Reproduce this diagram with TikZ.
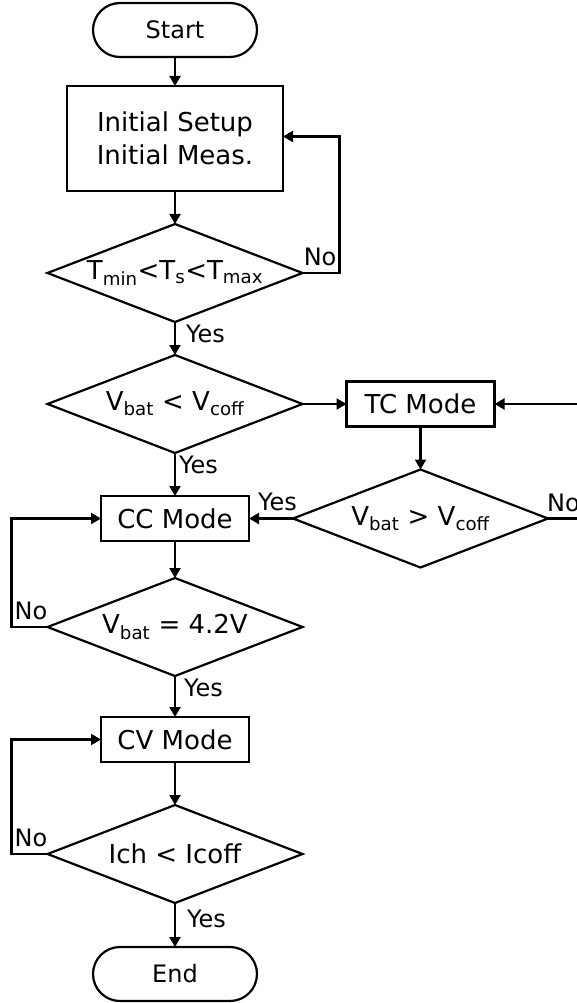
\documentclass[tikz,border=0pt]{standalone}
\usepackage{fontspec}
\setmainfont{DejaVu Sans}
\usetikzlibrary{shapes.geometric, arrows.meta, positioning}

\tikzset{
  terminal/.style={draw, line width=2.2pt, rectangle, rounded corners=27pt,
    minimum width=164pt, minimum height=54pt, outer sep=0pt,
    font=\fontsize{24}{28}\selectfont},
  process/.style={draw, line width=2.2pt, rectangle, inner sep=0pt, outer sep=0pt,
    minimum width=148pt, minimum height=45pt, align=center,
    font=\fontsize{26}{33}\selectfont},
  decision/.style={draw, line width=2.2pt, diamond, shape aspect=2.6,
    inner sep=0pt, outer sep=0pt, minimum width=255pt, minimum height=98pt,
    font=\fontsize{26}{30}\selectfont},
  flow/.style={line width=2.2pt, -{Triangle[length=10pt, width=11pt]}},
  lbl/.style={font=\fontsize{24}{28}\selectfont, inner sep=2pt},
  yes/.style={lbl, pos=0, anchor=north west},
  no/.style={lbl, anchor=south west, yshift=4pt}
}

\begin{document}
\begin{tikzpicture}[x=1pt, y=1pt]
  \useasboundingbox (0,0) rectangle (577,-1003);
  \clip (0,0) rectangle (577,-1003);

  % Define nodes
  \node[terminal] (start) at (175,-30) {Start};
  \node[process, minimum width=216pt, minimum height=105pt, below=29pt of start] (init)
    {Initial Setup\\Initial Meas.};
  \node[decision, below=33pt of init] (tcheck)
    {T\textsubscript{min}<T\textsubscript{s}<T\textsubscript{max}};
  \node[decision, below=33pt of tcheck] (vcheck)
    {V\textsubscript{bat} < V\textsubscript{coff}};
  \node[process, right=44pt of vcheck] (tc) {TC Mode};
  \node[decision, below=43pt of tc] (vtc)
    {V\textsubscript{bat} > V\textsubscript{coff}};
  \node[process, line width=1.2pt, below=43pt of vcheck] (cc) {CC Mode};
  \node[decision, below=37pt of cc] (vfull) {V\textsubscript{bat} = 4.2V};
  \node[process, below=41pt of vfull] (cv) {CV Mode};
  \node[decision, below=43pt of cv] (icheck) {Ich < Icoff};
  \node[terminal, below=44pt of icheck] (finish) {End};

  % Connect the nodes
  \draw[flow] (start) -- (init);
  \draw[flow] (init) -- (tcheck);
  \draw[flow] (tcheck.east) -- ++(37,0)
    node[lbl, anchor=south east, yshift=4pt] {No} |- ([yshift=2pt]init.east);
  \draw[flow] (tcheck) -- node[yes, xshift=8pt] {Yes} (vcheck);
  \draw[flow] (vcheck) -- (tc);
  \draw[flow] (tc) -- (vtc);
  \draw[flow] (vtc.east) node[no, xshift=-4pt] {No} -- ++(40,0) |- (tc.east);
  \draw[flow] (vtc.west) node[lbl, anchor=south east, xshift=7pt, yshift=5pt] {Yes}
    -- (cc.east);
  \draw[flow] (vcheck) -- node[yes, xshift=1pt] {Yes} (cc);
  \draw[flow] (cc) -- (vfull);

  % Loops back to the modes
  \draw[flow] (vfull.west) -- ++(-36,0) node[no] {No} |- (cc.west);
  \draw[flow] (vfull) -- node[yes, xshift=6pt] {Yes} (cv);
  \draw[flow] (cv) -- (icheck);
  \draw[flow] (icheck.west) -- ++(-36,0) node[no] {No} |- (cv.west);
  \draw[flow] (icheck) -- node[yes, xshift=9pt, yshift=-4pt] {Yes} (finish);

\end{tikzpicture}
\end{document}
